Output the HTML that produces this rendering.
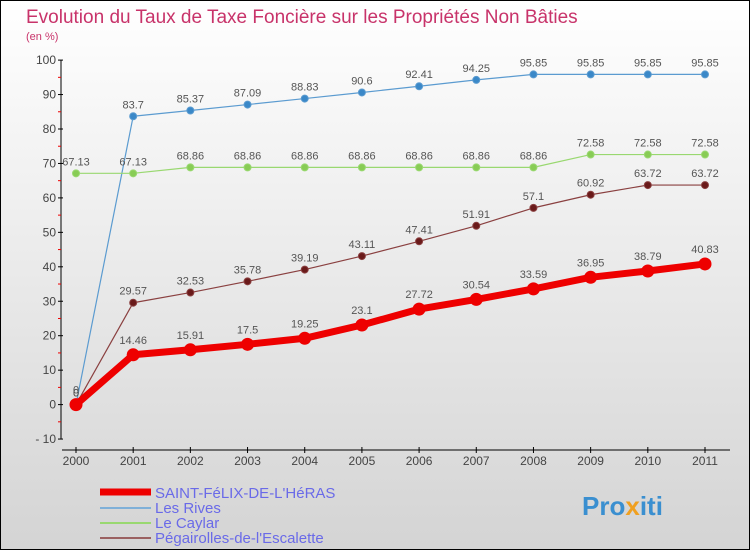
<!DOCTYPE html>
<html><head><meta charset="utf-8"><style>
body{margin:0}
svg{display:block;font-family:"Liberation Sans",sans-serif}
</style></head><body>
<svg id="c" width="750" height="550">
<defs><linearGradient id="bg" x1="0" y1="0" x2="0" y2="1"><stop offset="0" stop-color="#ffffff"/><stop offset="1" stop-color="#d4d4d4"/></linearGradient></defs>
<rect x="0.5" y="0.5" width="749" height="549" fill="url(#bg)" stroke="#000"/>
<text x="26" y="23" font-size="19" fill="#c8336a">Evolution du Taux de Taxe Foncière sur les Propriétés Non Bâties</text>
<text x="26" y="40" font-size="11" fill="#c8336a">(en %)</text>
<g id="axes"></g><g id="series"></g>
<g>
<line x1="100" y1="492" x2="151" y2="492" stroke="#e00" stroke-width="7"/>
<text x="155" y="498" font-size="15" fill="#6a6ae8">SAINT-FéLIX-DE-L'HéRAS</text>
<line x1="100" y1="508" x2="151" y2="508" stroke="#7fb0d8" stroke-width="2"/>
<text x="155" y="513" font-size="15" fill="#6a6ae8">Les Rives</text>
<line x1="100" y1="523" x2="151" y2="523" stroke="#99d870" stroke-width="2"/>
<text x="155" y="528" font-size="15" fill="#6a6ae8">Le Caylar</text>
<line x1="100" y1="538" x2="151" y2="538" stroke="#9a6060" stroke-width="2"/>
<text x="155" y="543" font-size="15" fill="#6a6ae8">Pégairolles-de-l'Escalette</text>
</g>
<text x="582" y="515" font-size="26" font-weight="bold" fill="#3a8fd0">Pro<tspan fill="#f0a020">x</tspan>iti</text>
</svg>
<script>
const years=["2000","2001","2002","2003","2004","2005","2006","2007","2008","2009","2010","2011"];
const yTicks=[-10,0,10,20,30,40,50,60,70,80,90,100];
const saint=[0,14.46,15.91,17.5,19.25,23.1,27.72,30.54,33.59,36.95,38.79,40.83];
const rives=[0,83.7,85.37,87.09,88.83,90.6,92.41,94.25,95.85,95.85,95.85,95.85];
const caylar=[67.13,67.13,68.86,68.86,68.86,68.86,68.86,68.86,68.86,72.58,72.58,72.58];
const pega=[0,29.57,32.53,35.78,39.19,43.11,47.41,51.91,57.1,60.92,63.72,63.72];
const NS="http://www.w3.org/2000/svg";
const X=i=>76+i*(705-76)/11;
const Y=v=>404.6-v*3.445;
function mk(p,t,a){const e=document.createElementNS(NS,t);for(const k in a)e.setAttribute(k,a[k]);p.appendChild(e);return e;}
const ax=document.getElementById('axes');
let l=mk(ax,'line',{x1:61,y1:Y(100),x2:61,y2:Y(-10),stroke:'#000'});


l=mk(ax,'line',{x1:62,y1:450,x2:730,y2:450,stroke:'#000'});


yTicks.forEach((v,i)=>{
 mk(ax,'line',{x1:58,y1:Y(v),x2:63,y2:Y(v),stroke:'#000'});
 if(i<yTicks.length-1)mk(ax,'line',{x1:58,y1:Y(v+5),x2:61,y2:Y(v+5),stroke:'#e00'});
 const t=mk(ax,'text',{x:56,y:Y(v)+4,'font-size':12,'text-anchor':'end',fill:'#444'});
 t.textContent=v<0?'- '+(-v):v;
 
 
});
years.forEach((y,i)=>{
 mk(ax,'line',{x1:X(i),y1:447,x2:X(i),y2:453,stroke:'#000'});
 const t=mk(ax,'text',{x:X(i),y:465,'font-size':12,'text-anchor':'middle',fill:'#444'});
 t.textContent=y;
 
 
});
const sg=document.getElementById('series');
function series(name,data,color,w,r,dot,lblOff){
 const g=mk(sg,'g',{});
 
 
 const p=mk(g,'polyline',{points:data.map((v,i)=>X(i)+','+Y(v)).join(' '),fill:'none',stroke:color,'stroke-width':w,'stroke-linejoin':'round'});
 
 
 data.forEach((v,i)=>{
  const c=mk(g,'circle',{cx:X(i),cy:Y(v),r:r,fill:dot,stroke:color,'stroke-width':1});
  
  
  const t=mk(g,'text',{x:X(i),y:Y(v)-lblOff,'font-size':11,'text-anchor':'middle',fill:'#555'});
  t.textContent=v;
  
  
 });
}
series('les-rives',rives,'#5b9bd0',1.2,3.5,'#3a88c8',8);
series('le-caylar',caylar,'#99d870',1.2,3.5,'#88cc55',8);
series('pegairolles',pega,'#8a4040',1.2,3.5,'#6a1a1a',8);
series('saint-felix',saint,'#ee0000',7,6,'#ee0000',11);
</script>
</body></html>
